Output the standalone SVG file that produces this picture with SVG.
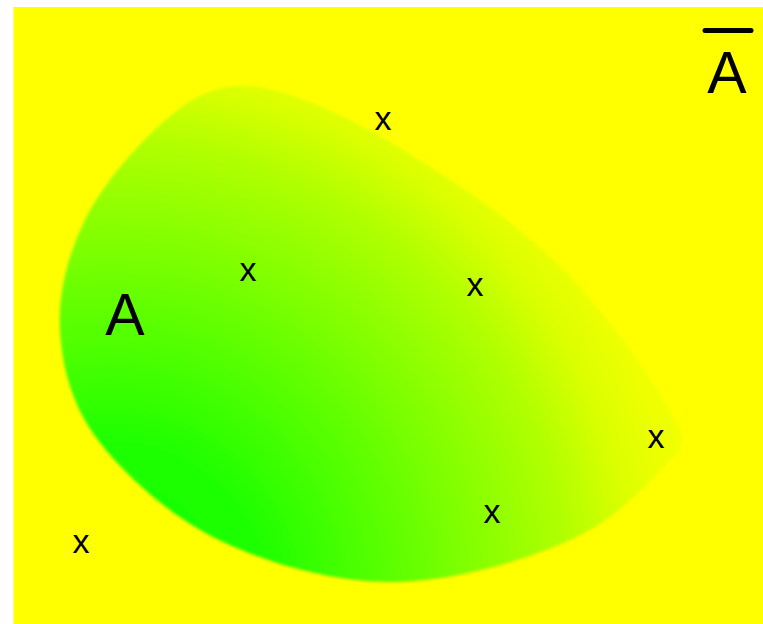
<svg xmlns="http://www.w3.org/2000/svg" width="763" height="624" viewBox="0 0 763 624">
<style>
.lbl{font-family:"Liberation Sans",Arial,sans-serif;fill:#000;text-anchor:middle}
.x{font-size:34px}
.big{font-size:59px}
</style>
<defs>
<radialGradient id="g" gradientUnits="userSpaceOnUse" cx="110" cy="600" r="610">
<stop offset="0" stop-color="#10ff00"/>
<stop offset="0.25" stop-color="#1cff00"/>
<stop offset="0.45" stop-color="#58ff00"/>
<stop offset="0.6" stop-color="#84ff00"/>
<stop offset="0.75" stop-color="#b0ff00"/>
<stop offset="0.86" stop-color="#dcff00"/>
<stop offset="0.94" stop-color="#eeff00"/>
<stop offset="1" stop-color="#f6ff00"/>
</radialGradient>
<filter id="soft" x="-5%" y="-5%" width="110%" height="110%"><feGaussianBlur stdDeviation="1.5"/></filter>
</defs>
<rect x="0" y="0" width="763" height="624" fill="#fff"/>
<rect x="13.5" y="7" width="749.5" height="617" fill="#ffff00"/>
<g id="setA">
<path filter="url(#soft)" fill="url(#g)" d="M240,86 C271.7,85.2 311.2,101 350,120 C388.8,139 435,170 470,193 C505,218 533.3,240 560,266 C586.7,293 609.2,321.7 630,350 C650.8,378.3 668,405 678,425 Q690,445 672,458 C645,485 624.7,513.3 576,537 C527.3,560.7 452.5,581.5 393,582 C333.5,582.5 268.2,563.7 219,540 C169.8,516.3 124.5,475 98,440 C71.5,405 62.2,366.7 60,330 C57.8,293.3 68.3,254.2 85,220 C101.7,185.8 134.7,147.8 160,125 C185.3,102.2 208.3,86.8 240,86 Z"/>
<text class="lbl big" x="125" y="335">A</text>
</g>
<g id="complement">
<line x1="705" y1="30.5" x2="751" y2="30.5" stroke="#000" stroke-width="5" stroke-linecap="round"/>
<text class="lbl big" x="727" y="93">A</text>
</g>
<g id="points">
<text class="lbl x" x="383" y="130">x</text>
<text class="lbl x" x="248" y="281">x</text>
<text class="lbl x" x="475" y="296">x</text>
<text class="lbl x" x="656" y="448">x</text>
<text class="lbl x" x="492" y="523">x</text>
<text class="lbl x" x="81" y="553">x</text>
</g>
</svg>
